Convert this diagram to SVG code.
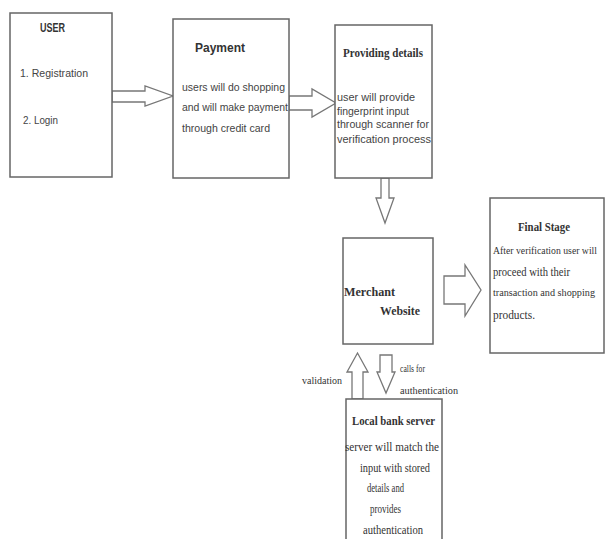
<svg xmlns="http://www.w3.org/2000/svg" width="606" height="539" viewBox="0 0 606 539">
<style>
.box{fill:#fff;stroke:#666;stroke-width:1.5}
.arr{fill:#fff;stroke:#777;stroke-width:1.3;stroke-linejoin:miter}
.s{font-family:"Liberation Sans",Arial,sans-serif;font-size:11.5px;fill:#444}
.sb{font-family:"Liberation Sans",Arial,sans-serif;font-size:13px;font-weight:bold;fill:#333}
.t{font-family:"Liberation Serif","Times New Roman",serif;font-size:12px;fill:#333}
.tb{font-family:"Liberation Serif","Times New Roman",serif;font-size:12px;font-weight:bold;fill:#333}
</style>
<rect width="606" height="539" fill="#fff"/>
<g id="connectors">
<polygon class="arr" points="112,91 145,91 145,86 173,96 145,106 145,102 112,102"/>
<polygon class="arr" points="289,96 312,96 312,89 336,103 312,117 312,110 289,110"/>
<polygon class="arr" points="381,178 389,178 389,198 394,198 385,223 376,198 381,198"/>
<polygon class="arr" points="444,276 465,276 465,265 481,290 465,316 465,304 444,304"/>
<polygon class="arr" points="352,399 363,399 363,372 368,372 357.5,353 347,372 352,372"/>
<polygon class="arr" points="380,355 392,355 392,372 395,372 386,393 377,372 380,372"/>
<text class="t" x="302" y="384" textLength="40" lengthAdjust="spacingAndGlyphs" style="font-size:11px">validation</text>
<text class="t" x="400" y="372" textLength="25" lengthAdjust="spacingAndGlyphs" style="font-size:11px">calls for</text>
<text class="t" x="400" y="394" textLength="58" lengthAdjust="spacingAndGlyphs" style="font-size:11px">authentication</text>
</g>
<g id="user">
<rect class="box" x="10" y="13" width="102" height="164"/>
<text class="sb" x="40" y="32" textLength="25" lengthAdjust="spacingAndGlyphs" style="font-size:12px">USER</text>
<text class="s" x="20" y="77" textLength="68" lengthAdjust="spacingAndGlyphs">1. Registration</text>
<text class="s" x="23" y="124" textLength="35" lengthAdjust="spacingAndGlyphs">2. Login</text>
</g>
<g id="payment">
<rect class="box" x="173" y="19" width="116" height="159"/>
<text class="sb" x="195" y="52" textLength="50" lengthAdjust="spacingAndGlyphs">Payment</text>
<text class="s" x="182" y="91" textLength="103" lengthAdjust="spacingAndGlyphs">users will do shopping</text>
<text class="s" x="182" y="111" textLength="106" lengthAdjust="spacingAndGlyphs">and will make payment</text>
<text class="s" x="182" y="132" textLength="88" lengthAdjust="spacingAndGlyphs">through credit card</text>
</g>
<g id="providing">
<rect class="box" x="335" y="25" width="97" height="153"/>
<text class="tb" x="343" y="57" textLength="80" lengthAdjust="spacingAndGlyphs">Providing details</text>
<text class="s" x="337" y="101" textLength="78" lengthAdjust="spacingAndGlyphs">user will provide</text>
<text class="s" x="337" y="115" textLength="72" lengthAdjust="spacingAndGlyphs">fingerprint input</text>
<text class="s" x="337" y="128" textLength="92" lengthAdjust="spacingAndGlyphs">through scanner for</text>
<text class="s" x="337" y="143" textLength="94" lengthAdjust="spacingAndGlyphs">verification process</text>
</g>
<g id="merchant">
<rect class="box" x="343" y="238" width="90" height="106"/>
<text class="tb" x="344" y="296" textLength="51" lengthAdjust="spacingAndGlyphs">Merchant</text>
<text class="tb" x="380" y="315" textLength="40" lengthAdjust="spacingAndGlyphs">Website</text>
</g>
<g id="final">
<rect class="box" x="490" y="198" width="114" height="155"/>
<text class="tb" x="518" y="231" textLength="52" lengthAdjust="spacingAndGlyphs">Final Stage</text>
<text class="t" x="493" y="254" textLength="104" lengthAdjust="spacingAndGlyphs" style="font-size:10.5px">After verification user will</text>
<text class="t" x="493" y="276" textLength="77" lengthAdjust="spacingAndGlyphs">proceed with their</text>
<text class="t" x="493" y="296" textLength="102" lengthAdjust="spacingAndGlyphs" style="font-size:10.5px">transaction and shopping</text>
<text class="t" x="493" y="319" textLength="42" lengthAdjust="spacingAndGlyphs">products.</text>
</g>
<g id="bank">
<path class="box" d="M346,545 V399 H442 V545"/>
<text class="tb" x="352" y="425" textLength="83" lengthAdjust="spacingAndGlyphs">Local bank server</text>
<text class="t" x="345" y="451" textLength="94" lengthAdjust="spacingAndGlyphs">server will match the</text>
<text class="t" x="360" y="472" textLength="70" lengthAdjust="spacingAndGlyphs">input with stored</text>
<text class="t" x="367" y="492" textLength="37" lengthAdjust="spacingAndGlyphs">details and</text>
<text class="t" x="370" y="513" textLength="31" lengthAdjust="spacingAndGlyphs">provides</text>
<text class="t" x="363" y="534" textLength="60" lengthAdjust="spacingAndGlyphs">authentication</text>
</g>
</svg>
